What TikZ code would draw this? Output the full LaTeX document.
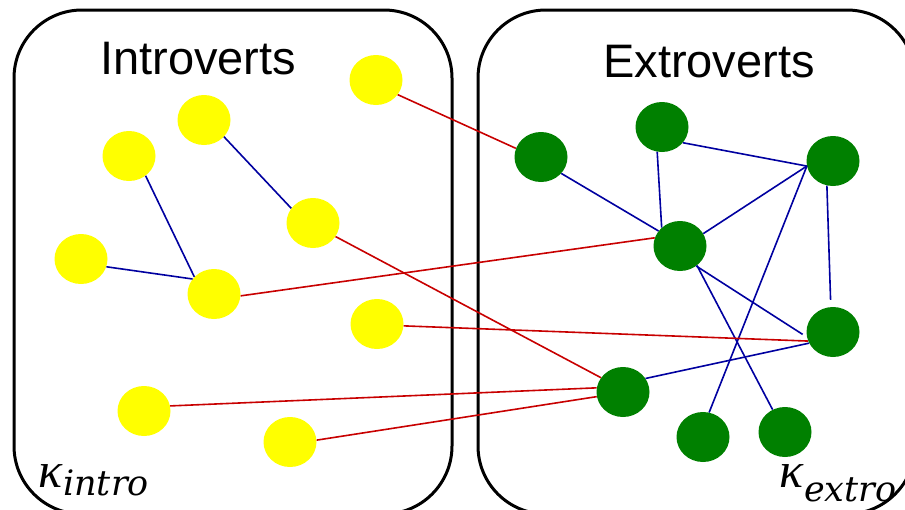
\documentclass[tikz,border=0pt]{standalone}
\usepackage{fontspec}
\setmainfont{Liberation Sans}
\newfontfamily\kapfont{DejaVu Serif}[ItalicFont={DejaVu Serif Italic}]
\newfontfamily\greekfont{Liberation Serif}[ItalicFont={Liberation Serif Italic}]
\usetikzlibrary{shapes.geometric}
\definecolor{nodeyellow}{RGB}{255,255,0}
\definecolor{nodegreen}{RGB}{0,128,0}
\definecolor{linkblue}{RGB}{0,0,160}
\definecolor{linkred}{RGB}{200,0,0}
% kappa with a lowered subscript
\newcommand{\kaplabel}[2]{{\greekfont\itshape\fontsize{50}{52}\selectfont κ\kern1pt\kapfont\itshape\raisebox{#1}{\fontsize{35}{36}\selectfont #2}}}
\begin{document}
\begin{tikzpicture}[x=1pt,y=-1pt,
  groupbox/.style={draw=black,line width=3pt,rounded corners=68pt},
  person/.style={ellipse,minimum width=53pt,minimum height=50pt,inner sep=0pt,draw=none},
  intro/.style={person,fill=nodeyellow},
  extro/.style={person,fill=nodegreen},
  inlink/.style={draw=linkblue,line width=1.6pt},
  crosslink/.style={draw=linkred,line width=1.6pt},
  title/.style={anchor=base west,inner sep=0pt,font=\fontsize{47}{50}\selectfont},
  kappa/.style={anchor=base west,inner sep=0pt}]
\useasboundingbox (0,0) rectangle (905,509);
\begin{scope}
\clip (0,0) rectangle (905,509);
% the two groups
\draw[groupbox] (14,10) rectangle (452,514);
\draw[groupbox] (478,10) rectangle (915,514);
\node[title] (tin) at (100,74) {Introverts};
\node[title] (tex) at (603,77) {Extroverts};
\node[kappa] (kin) at (38,487) {\kaplabel{-8pt}{intro}};
\node[kappa] (kex) at (779,487) {\kaplabel{-14pt}{extro}};

% introverts
\node[intro] (y1) at (376,80) {};
\node[intro] (y2) at (204,120) {};
\node[intro] (y3) at (129,156) {};
\node[intro] (y4) at (313,223) {};
\node[intro] (y5) at (81,259) {};
\node[intro] (y6) at (214,294) {};
\node[intro] (y7) at (377,324) {};
\node[intro] (y8) at (144,411) {};
\node[intro] (y9) at (290,442) {};

% extroverts
\node[extro] (g1) at (541,157) {};
\node[extro] (g2) at (662,127) {};
\node[extro] (g3) at (833,161) {};
\node[extro] (g4) at (680,246) {};
\node[extro] (g5) at (833,332) {};
\node[extro] (g6) at (623,392) {};
\node[extro] (g7) at (703,437) {};
\node[extro] (g8) at (785,432) {};

% links within a group
\draw[inlink] (y3.310) -- (y6.139);
\draw[inlink] (y5.343) -- (y6.145);
\draw[inlink] (y2.320) -- (y4.146);
\draw[inlink] (g1.321) -- (g4.145);
\draw[inlink] (g2.259) -- (g4.135);
\draw[inlink] (g2.323) -- (g3.191);
\draw[inlink] (g3.191) -- (g4.28);
\draw[inlink,shorten >=7pt] (g3.256) -- (g5.95);
\draw[inlink] (g3.191) -- (g7.76);
\draw[inlink,shorten >=5pt] (g4.309) -- (g5.191);
\draw[inlink] (g4.311) -- (g8.119);
\draw[inlink] (g6.31) -- (g5.205);

% links across the groups
\draw[crosslink] (y1.326) -- (g1.161);
\draw[crosslink] (y4.329) -- (g6.147);
\draw[crosslink] (y6.356) -- (g4.162);
\draw[crosslink] (y7.356) -- (g5.200);
\draw[crosslink] (y8.11) -- (g6.171);
\draw[crosslink] (y9.4) -- (g6.190);
\end{scope}
\end{tikzpicture}
\end{document}
